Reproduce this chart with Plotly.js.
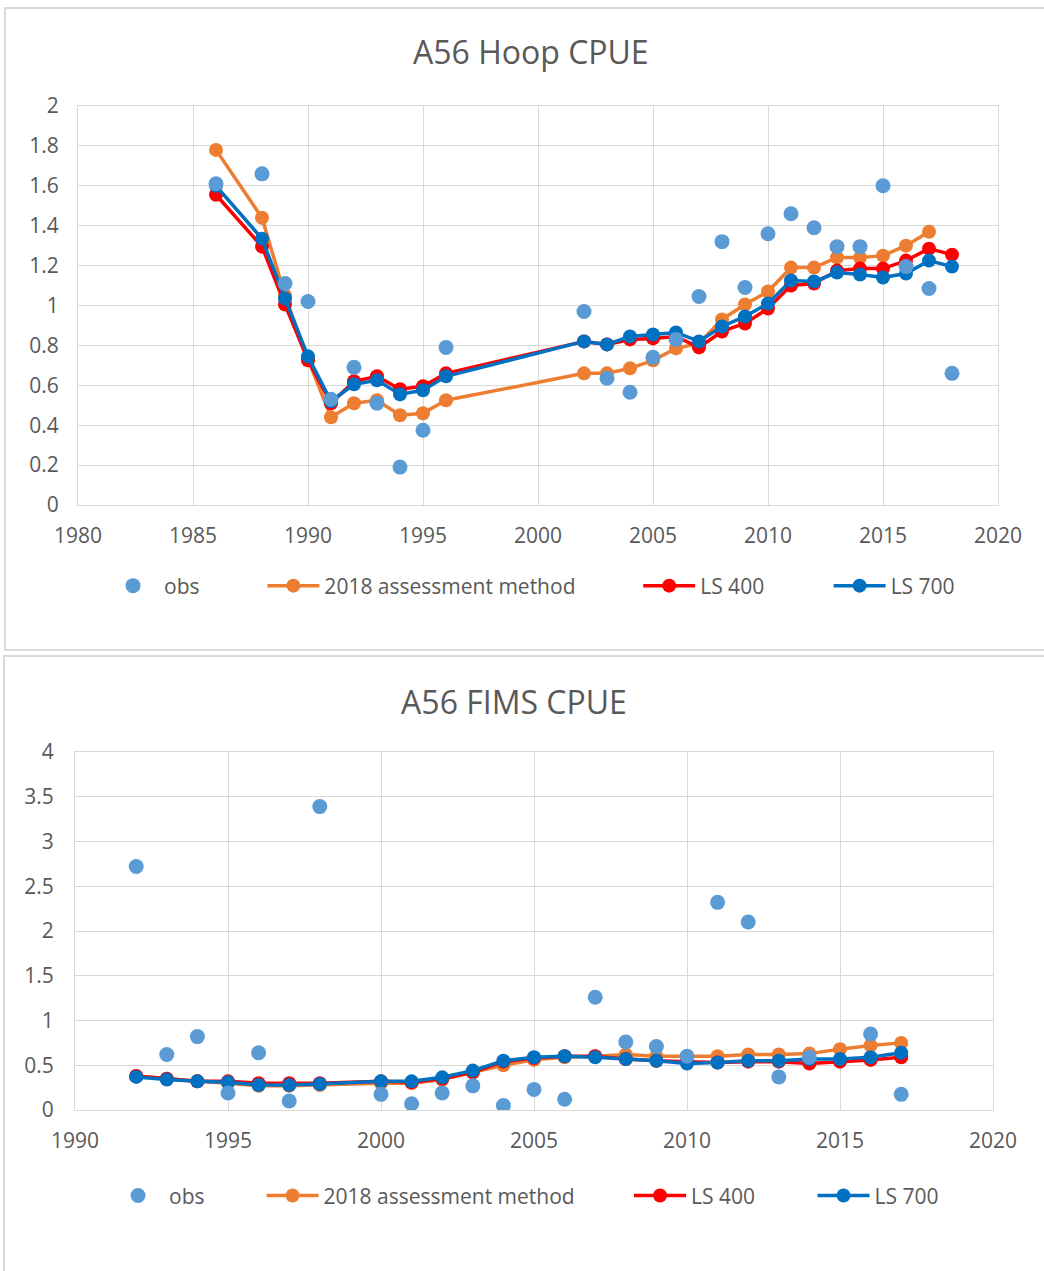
<!DOCTYPE html>
<html>
<head>
<meta charset="utf-8">
<script src="https://cdn.plot.ly/plotly-3.0.1.min.js"></script>
<style>
  html, body { margin: 0; padding: 0; background: #ffffff; width: 1044px; height: 1271px; overflow: hidden; position: relative; }
  #top { position: absolute; left: 4px; top: 7px; width: 1060px; height: 644px; box-sizing: border-box; border: 2px solid #d9d9d9; }
  #bot { position: absolute; left: 3px; top: 655px; width: 1060px; height: 640px; box-sizing: border-box; border: 2px solid #d9d9d9; }
</style>
</head>
<body>
<div id="top"></div>
<div id="bot"></div>
<script>
// ---------- A56 Hoop CPUE ----------
const hoopYears = [1986, 1988, 1989, 1990, 1991, 1992, 1993, 1994, 1995, 1996,
  2002, 2003, 2004, 2005, 2006, 2007, 2008, 2009, 2010, 2011, 2012, 2013, 2014, 2015, 2016, 2017, 2018];
const hoopObs = [1.61, 1.66, 1.11, 1.02, 0.53, 0.69, 0.51, 0.19, 0.375, 0.79,
  0.97, 0.635, 0.565, 0.74, 0.83, 1.045, 1.32, 1.09, 1.36, 1.46, 1.39, 1.295, 1.295, 1.60, 1.195, 1.085, 0.66];
const hoopAssessYears = [1986, 1988, 1989, 1990, 1991, 1992, 1993, 1994, 1995, 1996,
  2002, 2003, 2004, 2005, 2006, 2007, 2008, 2009, 2010, 2011, 2012, 2013, 2014, 2015, 2016, 2017];
const hoopAssess = [1.78, 1.44, 1.05, 0.73, 0.44, 0.51, 0.525, 0.45, 0.46, 0.525,
  0.66, 0.66, 0.685, 0.725, 0.785, 0.81, 0.93, 1.005, 1.07, 1.19, 1.19, 1.24, 1.24, 1.25, 1.30, 1.37];
const hoopLS400 = [1.555, 1.295, 1.005, 0.725, 0.51, 0.62, 0.645, 0.58, 0.595, 0.66,
  0.82, 0.805, 0.83, 0.835, 0.845, 0.79, 0.87, 0.91, 0.985, 1.10, 1.11, 1.175, 1.185, 1.185, 1.225, 1.285, 1.255];
const hoopLS700 = [1.60, 1.335, 1.035, 0.745, 0.52, 0.605, 0.625, 0.555, 0.575, 0.645,
  0.82, 0.805, 0.845, 0.855, 0.865, 0.82, 0.895, 0.945, 1.01, 1.125, 1.12, 1.165, 1.155, 1.14, 1.16, 1.225, 1.195];

// ---------- A56 FIMS CPUE ----------
const fimsYears = [1992, 1993, 1994, 1995, 1996, 1997, 1998,
  2000, 2001, 2002, 2003, 2004, 2005, 2006, 2007, 2008, 2009, 2010, 2011, 2012, 2013, 2014, 2015, 2016, 2017];
const fimsAssess = [0.38, 0.35, 0.32, 0.30, 0.27, 0.27, 0.28,
  0.30, 0.30, 0.34, 0.42, 0.50, 0.56, 0.59, 0.60, 0.62, 0.60, 0.60, 0.60, 0.62, 0.62, 0.63, 0.68, 0.72, 0.75];
const fimsLS400 = [0.38, 0.35, 0.32, 0.32, 0.30, 0.30, 0.30,
  0.32, 0.31, 0.35, 0.42, 0.54, 0.58, 0.60, 0.60, 0.57, 0.55, 0.54, 0.53, 0.54, 0.54, 0.52, 0.54, 0.56, 0.59];
const fimsLS700 = [0.37, 0.34, 0.32, 0.31, 0.28, 0.28, 0.29,
  0.32, 0.32, 0.365, 0.44, 0.55, 0.59, 0.60, 0.59, 0.57, 0.55, 0.52, 0.53, 0.55, 0.55, 0.57, 0.57, 0.59, 0.64];
const fimsObsYears = [1992, 1993, 1994, 1995, 1996, 1997, 1998,
  2000, 2001, 2002, 2003, 2004, 2005, 2006, 2007, 2008, 2009, 2010, 2011, 2012, 2013, 2014, 2016, 2017];
const fimsObs = [2.72, 0.62, 0.82, 0.19, 0.64, 0.10, 3.39,
  0.175, 0.07, 0.19, 0.27, 0.05, 0.23, 0.12, 1.26, 0.76, 0.71, 0.60, 2.32, 2.10, 0.37, 0.59, 0.85, 0.175];

const seriesNames = ['obs', '2018 assessment method', 'LS 400', 'LS 700'];
const COL = { obs: '#5b9bd5', assess: '#ed7d31', ls400: '#ff0000', ls700: '#0070c0' };
const FONT = 'Open Sans, Noto Sans, sans-serif';
const TXT = '#595959';

function lineTrace(x, y, name, color, leg, rank) {
  return {
    type: 'scatter', mode: 'lines+markers', x: x, y: y, name: name,
    line: { color: color, width: 3.5 }, marker: { color: color, size: 14 },
    legend: leg, legendrank: rank, hoverinfo: 'x+y'
  };
}
function obsTrace(x, y, leg) {
  return {
    type: 'scatter', mode: 'markers', x: x, y: y, name: seriesNames[0],
    marker: { color: COL.obs, size: 15 }, legend: leg, legendrank: 1
  };
}
function legendDef(x, y) {
  return {
    x: x, y: y, xanchor: 'left', yanchor: 'middle', orientation: 'h',
    bgcolor: 'rgba(0,0,0,0)', borderwidth: 0, itemwidth: 52,
    font: { family: FONT, size: 21, color: TXT }
  };
}
function axisBase() {
  return {
    showgrid: true, gridcolor: '#d9d9d9', gridwidth: 1,
    showline: true, linecolor: '#d9d9d9', linewidth: 1, mirror: true,
    zeroline: false, ticks: '', fixedrange: true,
    tickfont: { family: FONT, size: 21, color: TXT }
  };
}

// Top chart
const topTraces = [
  lineTrace(hoopAssessYears, hoopAssess, seriesNames[1], COL.assess, 'legend2', 2),
  lineTrace(hoopYears, hoopLS400, seriesNames[2], COL.ls400, 'legend3', 3),
  lineTrace(hoopYears, hoopLS700, seriesNames[3], COL.ls700, 'legend4', 4),
  obsTrace(hoopYears, hoopObs, 'legend')
];
const topX = Object.assign(axisBase(), { range: [1980, 2020], dtick: 5, tick0: 1980, ticklabelstandoff: 12 });
const topY = Object.assign(axisBase(), { range: [0, 2], dtick: 0.2, tick0: 0, ticklabelstandoff: 14 });
const legY1 = -0.203;
const topLayout = {
  width: 1056, height: 640,
  margin: { l: 72, r: 64, t: 97, b: 144 },
  paper_bgcolor: '#ffffff', plot_bgcolor: '#ffffff',
  font: { family: FONT, color: TXT },
  title: { text: 'A56 Hoop CPUE', xref: 'container', x: 0.497, y: 0.932, yanchor: 'middle', xanchor: 'center',
           font: { family: FONT, size: 32, color: TXT } },
  xaxis: topX, yaxis: topY,
  showlegend: true,
  legend: legendDef(0.0261, legY1),
  legend2: legendDef(0.2004, legY1),
  legend3: legendDef(0.6089, legY1),
  legend4: legendDef(0.8159, legY1)
};

// Bottom chart
const botTraces = [
  lineTrace(fimsYears, fimsAssess, seriesNames[1], COL.assess, 'legend2', 2),
  lineTrace(fimsYears, fimsLS400, seriesNames[2], COL.ls400, 'legend3', 3),
  lineTrace(fimsYears, fimsLS700, seriesNames[3], COL.ls700, 'legend4', 4),
  obsTrace(fimsObsYears, fimsObs, 'legend')
];
const botX = Object.assign(axisBase(), { range: [1990, 2020], dtick: 5, tick0: 1990, ticklabelstandoff: 12 });
const botY = Object.assign(axisBase(), { range: [0, 4], dtick: 0.5, tick0: 0, ticklabelstandoff: 16 });
const legY2 = -0.240;
const botLayout = {
  width: 1056, height: 636,
  margin: { l: 70, r: 68, t: 95, b: 183 },
  paper_bgcolor: '#ffffff', plot_bgcolor: '#ffffff',
  font: { family: FONT, color: TXT },
  title: { text: 'A56 FIMS CPUE', xref: 'container', x: 0.482, y: 0.928, yanchor: 'middle', xanchor: 'center',
           font: { family: FONT, size: 32, color: TXT } },
  xaxis: botX, yaxis: botY,
  showlegend: true,
  legend: legendDef(0.0349, legY2),
  legend2: legendDef(0.2032, legY2),
  legend3: legendDef(0.6035, legY2),
  legend4: legendDef(0.8034, legY2)
};

const cfg = { displayModeBar: false, staticPlot: true };
Plotly.newPlot('top', topTraces, topLayout, cfg);
Plotly.newPlot('bot', botTraces, botLayout, cfg);
</script>
</body>
</html>
